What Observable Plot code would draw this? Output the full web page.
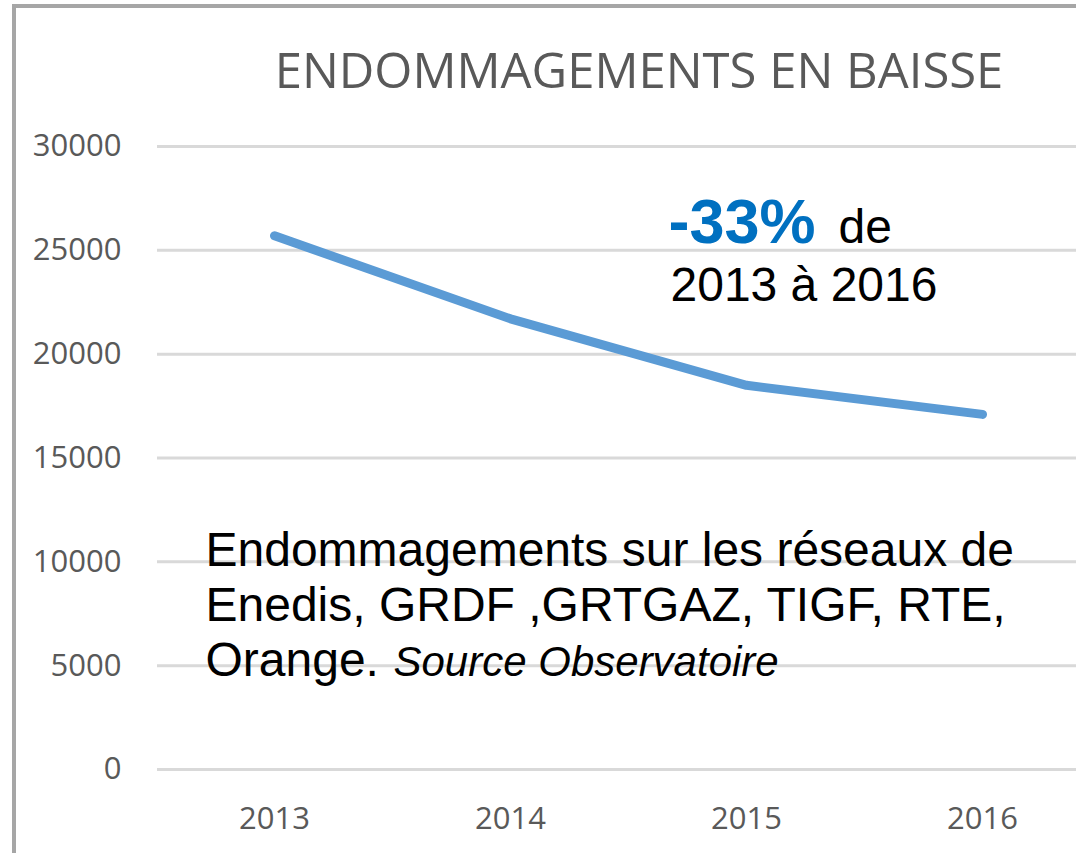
<!DOCTYPE html>
<html>
<head>
<meta charset="utf-8">
<script src="https://cdn.jsdelivr.net/npm/d3@7"></script>
<script src="https://cdn.jsdelivr.net/npm/@observablehq/plot@0.6"></script>
<style>
  html, body { margin: 0; padding: 0; background: #fff; overflow: hidden; }
  #border { position: absolute; left: 12px; top: 4px; width: 2000px; height: 2000px;
            border-left: 4px solid #a6a6a6; border-top: 4px solid #a6a6a6; box-sizing: border-box; }
  #chart { position: absolute; left: 0; top: 0; }
</style>
</head>
<body>
<div id="border"></div>
<div id="chart"></div>
<script>
const years = ["2013", "2014", "2015", "2016"];
const values = [25700, 21700, 18500, 17100];
const yTicks = [0, 5000, 10000, 15000, 20000, 25000, 30000];
const title = ["ENDOMMAGEMENTS EN BAISSE"];
const pctLabel = ["-33%"];
const deLabel = ["de"];
const rangeLabel = ["2013 à 2016"];
const noteLines = ["Endommagements sur les réseaux de", "Enedis, GRDF ,GRTGAZ, TIGF, RTE,", "Orange."];
const sourceLabel = ["Source Observatoire"];

const data = years.map((year, i) => ({year, value: values[i]}));
const arial = "Liberation Sans, Arial, sans-serif";
const calibri = "Open Sans, sans-serif";

const chart = Plot.plot({
  width: 1076,
  height: 853,
  marginTop: 146,
  marginBottom: 84,
  marginLeft: 157,
  marginRight: 0,
  style: {fontFamily: calibri, background: "transparent"},
  x: {type: "point", domain: years, range: [273, 983], padding: 0, label: null},
  y: {domain: [0, 30000], label: null},
  marks: [
    Plot.ruleY(yTicks, {stroke: "#d9d9d9", strokeWidth: 3}),
    Plot.axisY({ticks: yTicks, tickSize: 0, tickPadding: 36, tickFormat: d => String(d),
                fontSize: 31, fill: "#595959", label: null}),
    Plot.axisX({tickSize: 0, tickPadding: 37, fontSize: 31, fill: "#595959", label: null}),
    Plot.line(data, {x: "year", y: "value", stroke: "#5b9bd5", strokeWidth: 9,
                     strokeLinecap: "round", strokeLinejoin: "round"}),
    Plot.text(title, {text: d => d, frameAnchor: "top", lineAnchor: "bottom", dx: 22, dy: -59,
                      fontSize: 49, fill: "#595959", fontFamily: calibri}),
    Plot.text(pctLabel, {text: d => d, frameAnchor: "top-left", textAnchor: "start", lineAnchor: "bottom",
                         dx: 511, dy: 96, fontSize: 63, fontWeight: "bold", fill: "#0070c0", fontFamily: arial}),
    Plot.text(deLabel, {text: d => d, frameAnchor: "top-left", textAnchor: "start", lineAnchor: "bottom",
                        dx: 681, dy: 96, fontSize: 48, fill: "#000", fontFamily: arial}),
    Plot.text(rangeLabel, {text: d => d, frameAnchor: "top-left", textAnchor: "start", lineAnchor: "bottom",
                           dx: 513, dy: 154, fontSize: 48, fill: "#000", fontFamily: arial}),
    ...noteLines.map((line, i) => Plot.text([line], {text: d => d, frameAnchor: "top-left", textAnchor: "start",
                           lineAnchor: "bottom", dx: 48, dy: 419 + i * 55, fontSize: 48, fill: "#000", fontFamily: arial})),
    Plot.text(sourceLabel, {text: d => d, frameAnchor: "top-left", textAnchor: "start", lineAnchor: "bottom",
                            dx: 236, dy: 529, fontSize: 42, fontStyle: "italic", fill: "#000", fontFamily: arial})
  ]
});
document.getElementById("chart").appendChild(chart);
</script>
</body>
</html>
